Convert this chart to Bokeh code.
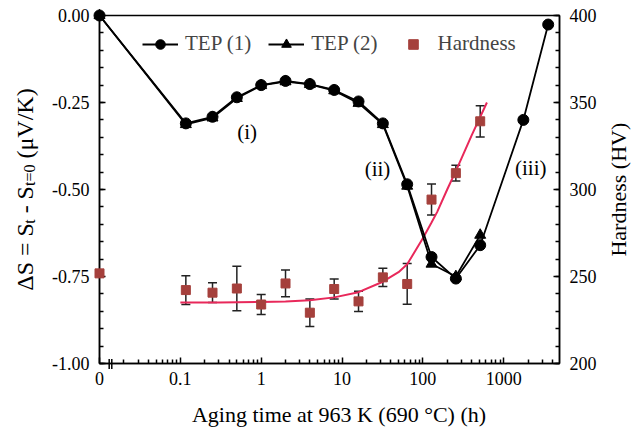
import math
from bokeh.plotting import figure
from bokeh.models import (Range1d, LinearAxis, FixedTicker, Whisker, TeeHead,
                          ColumnDataSource, Legend, LegendItem, Label)
from bokeh.core.properties import value
from bokeh.embed import file_html
from bokeh.resources import INLINE

# ---------------- data ----------------
time_tep1 = [0, 0.117, 0.25, 0.5, 1, 2, 4, 8, 16, 32, 64, 128, 256, 512, 1750, 3550]
tep1 = [0.0, -0.310, -0.291, -0.235, -0.200, -0.188, -0.197, -0.214, -0.247,
        -0.310, -0.485, -0.694, -0.756, -0.660, -0.300, -0.026]
time_tep2 = [0, 0.117, 0.25, 0.5, 1, 2, 4, 8, 16, 32, 64, 128, 256, 512]
tep2 = [0.0, -0.313, -0.294, -0.238, -0.201, -0.190, -0.198, -0.216, -0.252,
        -0.313, -0.490, -0.714, -0.750, -0.631]
time_hard = [0, 0.117, 0.25, 0.5, 1, 2, 4, 8, 16, 32, 64, 128, 256, 512]
hardness = [251.8, 242.2, 240.7, 243.1, 233.9, 246.0, 229.2, 242.8, 235.7,
            249.5, 245.7, 294.2, 309.4, 339.2]
hard_err = [0, 8.3, 5.7, 12.8, 5.7, 7.7, 7.9, 5.8, 5.8, 5.3, 11.7, 8.9, 4.5, 9.0]
fit_time = [0.1, 0.3, 1, 2, 4, 8, 16, 32, 50, 64, 100, 128, 150, 200, 270, 400, 620]
fit_hard = [235.0, 235.1, 235.4, 235.7, 236.3, 238.0, 241.0, 247.0, 252.5, 257.0,
            272.0, 281.0, 287.0, 300.0, 313.0, 331.0, 350.0]
x_major = [0.01, 0.1, 1, 10, 100, 1000]
x_major_labels = ["0", "0.1", "1", "10", "100", "1000"]
s_major = [-1.0, -0.75, -0.5, -0.25, 0.0]
s_major_labels = ["-1.00", "-0.75", "-0.50", "-0.25", "0.00"]
h_major = [200, 250, 300, 350, 400]

ZERO_POS = 0.01  # where t = 0 is drawn on the broken log axis
FONT = "Liberation Serif"
W, H = 641, 429


def place(ts):
    return [t if t > 0 else ZERO_POS for t in ts]


x_minor = [m * 10 ** e for e in range(-2, 4) for m in range(2, 10)
           if m * 10 ** e < 4900]

p = figure(width=W, height=H, x_axis_type="log",
           x_range=Range1d(0.01, 4900), y_range=Range1d(-1.0, 0.0),
           output_backend="svg", toolbar_location=None,
           min_border_left=99, min_border_right=82, min_border_top=15,
           min_border_bottom=66)
p.extra_y_ranges = {"hard": Range1d(200, 400)}
p.grid.visible = False
p.outline_line_color = "black"
p.outline_line_width = 1.5
p.background_fill_color = "white"

right = LinearAxis(y_range_name="hard")
p.add_layout(right, "right")

xa = p.xaxis[0]
ya = p.yaxis[0]
xa.ticker = FixedTicker(ticks=x_major, minor_ticks=x_minor)
xa.major_label_overrides = {t: l for t, l in zip(x_major, x_major_labels)}
ya.ticker = FixedTicker(ticks=s_major,
                        minor_ticks=[-1 + 0.05 * i for i in range(21)])
ya.major_label_overrides = {t: l for t, l in zip(s_major, s_major_labels)}
right.ticker = FixedTicker(ticks=h_major,
                           minor_ticks=list(range(200, 401, 10)))

for ax in (xa, ya, right):
    ax.axis_line_width = 1.5
    ax.axis_line_color = "black"
    ax.major_tick_line_width = 1.5
    ax.minor_tick_line_width = 1.5
    ax.major_tick_line_color = "black"
    ax.minor_tick_line_color = "black"
    ax.major_tick_in = 6
    ax.major_tick_out = 0
    ax.minor_tick_in = 4
    ax.minor_tick_out = 0
    ax.major_label_text_font = FONT
    ax.major_label_text_font_size = "18px"
    ax.major_label_text_color = "black"
    ax.major_label_standoff = 10
xa.major_label_standoff = 8

# hardness error bars
err_src = ColumnDataSource(dict(
    t=place(time_hard[1:]),
    lo=[h - e for h, e in zip(hardness[1:], hard_err[1:])],
    hi=[h + e for h, e in zip(hardness[1:], hard_err[1:])]))
wh = Whisker(source=err_src, base="t", lower="lo", upper="hi",
             y_range_name="hard", line_color="#222222", line_width=1.5,
             upper_head=TeeHead(size=9, line_width=1.5, line_color="#222222"),
             lower_head=TeeHead(size=9, line_width=1.5, line_color="#222222"),
             level="underlay")
p.add_layout(wh)

fit_r = p.line(fit_time, fit_hard, y_range_name="hard", line_color="#E8285A",
               line_width=2)

l1 = p.line(place(time_tep1), tep1, line_color="black", line_width=1.8)
m1 = p.scatter(place(time_tep1), tep1, marker="circle", size=11,
               color="black", level="overlay")
l2 = p.line(place(time_tep2), tep2, line_color="black", line_width=1.8)
m2 = p.scatter(place(time_tep2), tep2, marker="triangle", size=11,
               color="black", level="overlay")
mh = p.scatter(place(time_hard), hardness, y_range_name="hard",
               marker="square", size=9, color="#A5403C", level="overlay")

# axis break marks
p.segment(x0=[0.01318, 0.01419], x1=[0.01318, 0.01419],
          y0=[-0.987, -0.987], y1=[-1.016, -1.016],
          line_color="black", line_width=1.5, level="overlay")

legend = Legend(items=[LegendItem(label="TEP (1)", renderers=[l1, m1]),
                       LegendItem(label="TEP (2)", renderers=[l2, m2]),
                       LegendItem(label="Hardness", renderers=[mh])],
                location=(43, 306.7), orientation="horizontal",
                padding=0, margin=0, border_line_color=None,
                background_fill_alpha=0, glyph_width=36, glyph_height=24,
                label_height=24, label_standoff=7, spacing=17,
                label_text_font=FONT, label_text_font_size="21px")
p.add_layout(legend)

# region labels
for txt, tx, sy in [("(i)", 0.67, -0.334), ("(ii)", 27.5, -0.44),
                    ("(iii)", 2160, -0.437)]:
    p.add_layout(Label(x=tx, y=sy, text=txt, text_font=FONT,
                       text_font_size="21px", text_align="center",
                       text_baseline="middle", text_color="black"))


def px_to_t(xpx):
    return 10 ** (-2 + (xpx - 99.2) / 80.7)


def px_to_s(ypx):
    return -(ypx - 15.0) / 347.7


# axis titles drawn as text glyphs outside the frame
p.text(x=[px_to_t(338.3)], y=[px_to_s(413.5)],
       text=["Aging time at 963 K (690 °C) (h)"], text_font=value(FONT),
       text_font_size="22px", text_align="center",
       text_baseline="alphabetic", text_color="black", level="overlay")
p.text(x=[px_to_t(617)], y=[px_to_s(189)], text=["Hardness (HV)"],
       angle=math.pi / 2, text_font=value(FONT), text_font_size="22px",
       text_align="center", text_baseline="alphabetic", text_color="black",
       level="overlay")
pieces = [("ΔS = S", 290.0, False), ("t", 223.1, True), ("- S", 212.7, False),
          ("t=0", 185.4, True), ("(μV/K)", 157.9, False)]
for txt, ystart, sub in pieces:
    p.text(x=[px_to_t(29.5 if sub else 25.0)], y=[px_to_s(ystart)],
           text=[txt], angle=math.pi / 2, text_font=value(FONT),
           text_font_size="16px" if sub else "24px",
           text_align="left", text_baseline="alphabetic",
           text_color="black", level="overlay")

open("out.html", "w").write(file_html(p, INLINE))
